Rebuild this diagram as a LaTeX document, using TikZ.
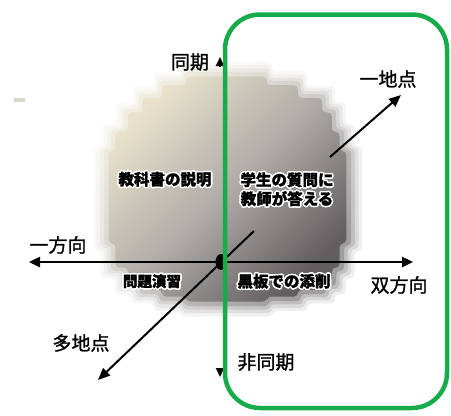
\documentclass[tikz,border=0pt]{standalone}
\usepackage{fontspec}
\usepackage[copies]{contour}
\contourlength{1.5pt}
\contournumber{16}
\newfontfamily\cjk{Noto Sans CJK JP}[BoldFeatures={FakeBold=1.5}]
\newfontfamily\cjkm{Noto Sans CJK JP}[FakeBold=1.2]
\usetikzlibrary{arrows.meta,calc}
\definecolor{frameGreen}{RGB}{22,172,74}
\definecolor{blobL}{RGB}{232,226,204}
\definecolor{blobM}{RGB}{176,172,168}
\definecolor{blobR}{RGB}{98,94,96}
\definecolor{smudge}{RGB}{214,218,200}
\begin{document}
\begin{tikzpicture}[x=1pt,y=-1pt,
  outerlabel/.style={font=\cjkm\fontsize{19}{21}\selectfont, inner sep=0pt, text=black},
  innerlabel/.style={font=\cjk\bfseries\fontsize{15.5}{19}\selectfont, inner sep=0pt, align=center, text=black},
  axisline/.style={line width=2.4pt, black},
  bigtip/.style={{Triangle[length=11pt,width=10pt]}-{Triangle[length=11pt,width=10pt]}},
  smalltip/.style={-{Triangle[length=9pt,width=8pt]}},
  blobshade/.style={left color=blobL, right color=blobR, middle color=blobM, shading angle=45}
]
\useasboundingbox (0,0) rectangle (451,416);

% coordinates
\coordinate (O) at (221,262);
\coordinate (L) at (29,262);
\coordinate (R) at (413,262);
\coordinate (T) at (220,57);
\coordinate (T0) at (220,66);
\coordinate (B) at (220,377);
\coordinate (B0) at (220,368);
\coordinate (NE) at (401,95);
\coordinate (SW) at (98,380);
\coordinate (D1) at (254,231);
\coordinate (D2) at (330,157);
\coordinate (C) at (227,189);

% smudge
\fill[smudge] (14,98) rectangle (25,102);

% blurred stepped blob
\foreach \s/\o in {1.10/0.10,1.07/0.15,1.04/0.22,1.01/0.35,0.97/1}{
  \shade[blobshade, opacity=\o, scale around={\s:(C)}, rounded corners=4pt]
    (185,73) -- (268,73) -- (268,82) -- (300,82) -- (300,95) -- (325,95) -- (325,110)
    -- (335,110) -- (335,130) -- (343,130) -- (343,150) -- (350,150) -- (350,245)
    -- (343,245) -- (343,270) -- (335,270) -- (335,285) -- (325,285) -- (325,293)
    -- (300,293) -- (300,300) -- (268,300) -- (268,305) -- (185,305) -- (185,300)
    -- (160,300) -- (160,293) -- (140,293) -- (140,285) -- (125,285) -- (125,270)
    -- (112,270) -- (112,245) -- (105,245) -- (105,150) -- (112,150) -- (112,130)
    -- (125,130) -- (125,110) -- (140,110) -- (140,95) -- (160,95) -- (160,82)
    -- (185,82) -- cycle;
}

% axes
\draw[line width=2pt, -{Triangle[length=12pt,width=10pt]}] (D2) -- (NE);
\draw[line width=2pt, -{Triangle[length=12pt,width=10pt]}] (D1) -- (SW);
\draw[axisline, bigtip] (L) -- (R);
\draw[line width=2pt, smalltip] (T0) -- (T);
\draw[line width=2pt, smalltip] (B0) -- (B);
\fill (O) ellipse (5.5pt and 8pt);

% inner labels
\node[innerlabel] (textbook) at (165,180) {\contour{white}{教科書の説明}};
\node[innerlabel] (question) at (287,190) {\contour{white}{学生の質問に}\\\contour{white}{教師が答える}};
\node[innerlabel, font=\cjk\bfseries\fontsize{14.5}{16}\selectfont] (exercise) at (152,282) {\contour{white}{問題演習}};
\node[innerlabel] (board) at (284,282) {\contour{white}{黒板での添削}};

% outer labels
\node[outerlabel] (sync) at (190,62) {同期};
\node[outerlabel] (onesite) at (388,79) {一地点};
\node[outerlabel] (oneway) at (58,245) {一方向};
\node[outerlabel] (twoway) at (399,285) {双方向};
\node[outerlabel] (multisite) at (81,343) {多地点};
\node[outerlabel] (async) at (266,362) {非同期};

% green frame
\draw[frameGreen, line width=4.5pt, rounded corners=35pt] (225,14.5) rectangle (447,408);
\end{tikzpicture}
\end{document}
